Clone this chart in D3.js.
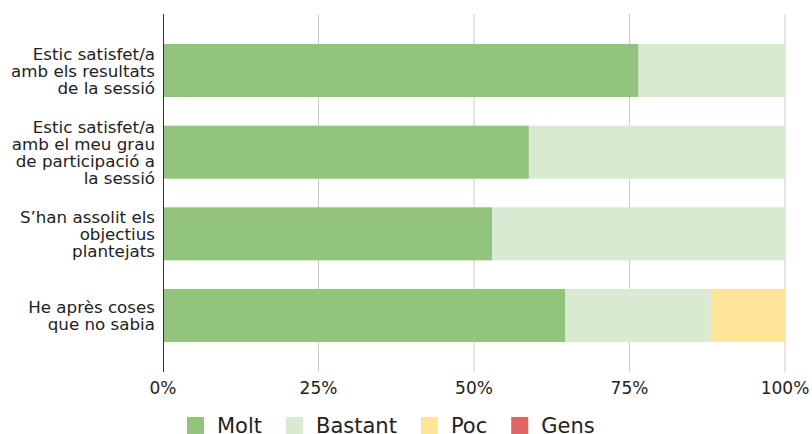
<!DOCTYPE html>
<html>
<head>
<meta charset="utf-8">
<script src="https://cdn.jsdelivr.net/npm/d3@7"></script>
<style>
  body { margin: 0; background: #fff; }
  text { font-family: "DejaVu Sans", Verdana, sans-serif; fill: #222; }
</style>
</head>
<body>
<svg id="chart"></svg>
<script>
// questions, one line per array entry
var questions = [
    ["Estic satisfet/a", "amb els resultats", "de la sessió"],
    ["Estic satisfet/a", "amb el meu grau", "de participació a", "la sessió"],
    ["S’han assolit els", "objectius", "plantejats"],
    ["He après coses", "que no sabia"]
]
var answers = ["Molt", "Bastant", "Poc", "Gens"]
// number of answers for each question
var molt = [13, 10, 9, 11]
var bastant = [4, 7, 8, 4]
var poc = [0, 0, 0, 2]
var gens = [0, 0, 0, 0]
var ticks = [0, 0.25, 0.5, 0.75, 1]
var colors = ["#93c47d", "#d9ead3", "#ffe599", "#e06666"]

var width = 812, height = 434
var svg = d3.select("#chart").attr("width", width).attr("height", height)

var rows = questions.map(function(q, i) {
    return { id: i, Molt: molt[i], Bastant: bastant[i], Poc: poc[i], Gens: gens[i] }
})
var series = d3.stack().keys(answers).offset(d3.stackOffsetExpand)(rows)

var x = d3.scaleLinear().domain([0, 1]).range([163, 785])
var y = d3.scaleBand()
    .domain(rows.map(function(d) { return d.id }))
    .range([14, 372])
    .paddingInner(0.35)
    .paddingOuter(0.367)
var color = d3.scaleOrdinal().domain(answers).range(colors)

// gridlines
svg.append("g")
    .selectAll("line")
    .data(ticks.slice(1))
    .enter()
    .append("line")
    .attr("x1", function(d) { return x(d) })
    .attr("x2", function(d) { return x(d) })
    .attr("y1", 14)
    .attr("y2", 372)
    .style("stroke", "#cccccc")
    .style("stroke-width", 1)

// bars
svg.append("g")
    .selectAll("g")
    .data(series)
    .enter()
    .append("g")
    .attr("fill", function(d) { return color(d.key) })
    .selectAll("rect")
    .data(function(d) { return d })
    .enter()
    .append("rect")
    .attr("x", function(d) { return x(d[0]) })
    .attr("width", function(d) { return x(d[1]) - x(d[0]) })
    .attr("y", function(d) { return y(d.data.id) })
    .attr("height", y.bandwidth())

// vertical axis line
svg.append("line")
    .attr("x1", x(0) + 0.5).attr("x2", x(0) + 0.5)
    .attr("y1", 14).attr("y2", 372)
    .style("stroke", "#333")
    .style("stroke-width", 1)

// x tick labels
svg.append("g")
    .selectAll("text")
    .data(ticks)
    .enter()
    .append("text")
    .attr("x", function(d) { return x(d) })
    .attr("y", 394)
    .attr("text-anchor", "middle")
    .style("font-size", "17px")
    .text(d3.format(".0%"))

// question labels
var lab = svg.append("g")
    .selectAll("text")
    .data(questions)
    .enter()
    .append("text")
    .attr("text-anchor", "end")
    .style("font-size", "16.7px")
lab.each(function(lines, i) {
    var cy = y(i) + y.bandwidth() / 2
    d3.select(this).selectAll("tspan")
        .data(lines)
        .enter()
        .append("tspan")
        .attr("x", 155)
        .attr("y", function(l, j) { return cy + (j - (lines.length - 1) / 2) * 17 + 6 })
        .text(function(l) { return l })
})

// legend
var lx = 187
answers.forEach(function(a) {
    svg.append("rect")
        .attr("x", lx).attr("y", 417)
        .attr("width", 17).attr("height", 17)
        .attr("fill", color(a))
    var t = svg.append("text")
        .attr("x", lx + 30)
        .attr("y", 433)
        .style("font-size", "21px")
        .text(a)
    lx += 30 + t.node().getComputedTextLength() + 24
})
</script>
</body>
</html>
